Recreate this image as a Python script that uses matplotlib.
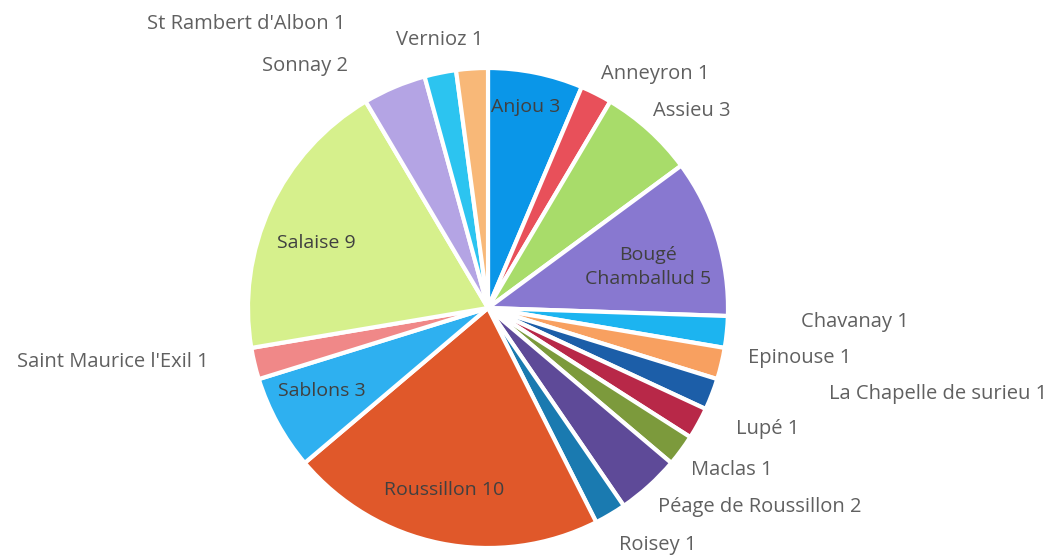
import matplotlib.pyplot as plt

# données
communes = ["Anjou", "Anneyron", "Assieu", "Bougé\nChamballud", "Chavanay", "Epinouse",
            "La Chapelle de surieu", "Lupé", "Maclas", "Péage de Roussillon", "Roisey",
            "Roussillon", "Sablons", "Saint Maurice l'Exil", "Salaise", "Sonnay",
            "St Rambert d'Albon", "Vernioz"]
valeurs = [3, 1, 3, 5, 1, 1, 1, 1, 1, 2, 1, 10, 3, 1, 9, 2, 1, 1]
couleurs = ["#0A96E8", "#E8505A", "#A8DC6A", "#8878D0", "#1CB4F0", "#F8A060",
            "#1C5EA8", "#B82848", "#7C9A3C", "#5E4A98", "#1A7AB0", "#E0582A",
            "#2EB0F0", "#F08888", "#D6F08C", "#B4A4E4", "#2CC4F0", "#F8B878"]

# position des étiquettes (pixels, y depuis le haut), et dedans / dehors
pos_etiquettes = [(526, 107), (655, 74), (692, 111), (648, 267), (855, 322), (800, 358),
                  (938, 394), (768, 429), (732, 470), (760, 507), (658, 545),
                  (444, 490), (322, 391), (113, 362), (316, 243), (305, 66),
                  (246, 24), (440, 40)]
dedans = [True, False, False, True, False, False, False, False, False, False, False,
          True, True, False, True, False, False, False]

W, H = 1064, 557
fig = plt.figure(figsize=(W / 100, H / 100), dpi=100)
ax = fig.add_axes([0, 0, 1, 1])

ax.pie(valeurs, colors=couleurs, startangle=90, counterclock=False,
       center=(488, H - 308), radius=240,
       wedgeprops=dict(edgecolor="white", linewidth=3))

for nom, v, (x, y), d in zip(communes, valeurs, pos_etiquettes, dedans):
    ax.text(x, H - y, f"{nom} {v}", ha="center", va="center",
            fontsize=14.5 if not d else 14, family="Open Sans",
            color="#404040" if d else "#606060", linespacing=1.4)

ax.set_xlim(0, W)
ax.set_ylim(0, H)
ax.set_aspect("equal")
ax.axis("off")

fig.savefig("out.png", dpi=100)
